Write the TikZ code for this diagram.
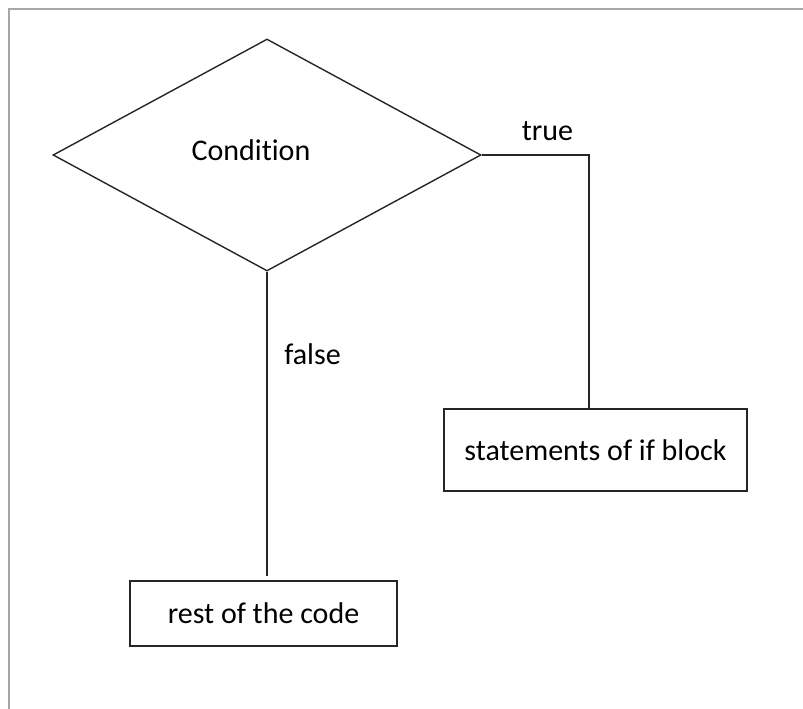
\documentclass[tikz,border=0pt]{standalone}
\usepackage{fontspec}
\setmainfont[Ligatures=NoCommon]{Carlito}
\usetikzlibrary{shapes.geometric}

\tikzset{
  flowline/.style={draw=black!85, line width=1.7pt},
  decision/.style={diamond, draw=black!85, line width=1.4pt, inner sep=0pt,
    minimum width=428pt, minimum height=232pt},
  stmtbox/.style={rectangle, draw=black!85, line width=1.8pt, inner sep=0pt},
  lbl/.style={inner sep=0pt, anchor=base},
  frameline/.style={draw=black!35, line width=2pt}
}

\begin{document}
\begin{tikzpicture}[x=1pt, y=-1pt, font=\fontsize{30}{36}\selectfont]
  \useasboundingbox (0,0) rectangle (803,709);
  % page frame, visible on the left and top
  \draw[frameline] (9,709) -- (9,9) -- (803,9);

  % decision
  \node[decision] (cond) at (267,155) {};
  \node[lbl] (condtext) at (251,160) {Condition};

  % branch targets
  \node[stmtbox, minimum width=303pt, minimum height=82pt] (ifbox) at (595.5,450) {statements of if block};
  \node[stmtbox, minimum width=267pt, minimum height=65pt] (restbox) at (263.5,613.5) {rest of the code};

  % true branch
  \draw[flowline] (cond.east) -| ([xshift=-6.5pt]ifbox.north);
  \node[lbl] (truelbl) at (547.5,140) {true};

  % false branch
  \coordinate (falseend) at (265,576);
  \draw[flowline] (cond.south) -- (cond.south |- falseend);
  \node[lbl] (falselbl) at (312.5,364) {false};
\end{tikzpicture}
\end{document}
